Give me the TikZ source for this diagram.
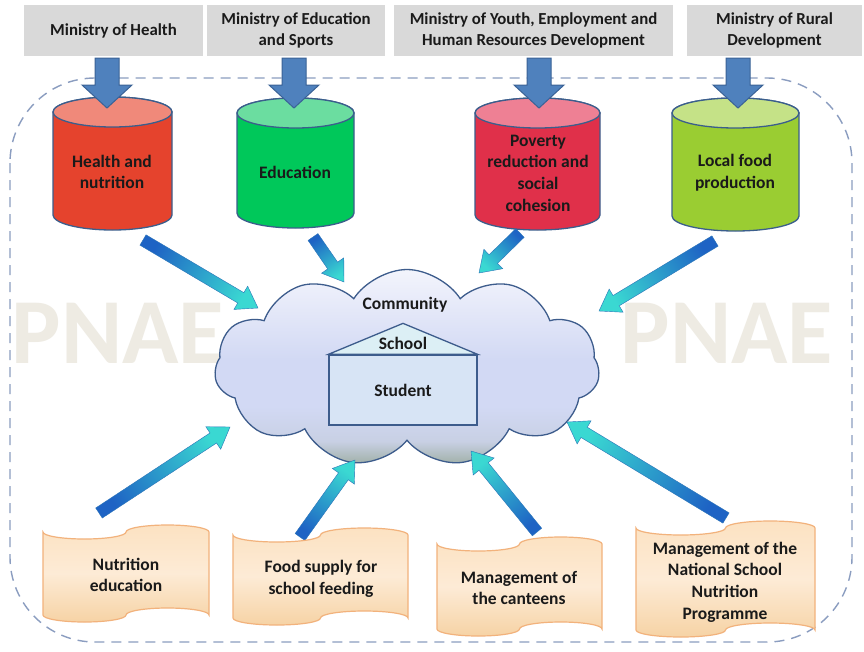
\documentclass[tikz,border=0pt]{standalone}
\usepackage{fontspec}
\setmainfont{Carlito}
\usetikzlibrary{calc,shapes.symbols}

\definecolor{minfill}{HTML}{D9D9D9}
\definecolor{dnarrow}{HTML}{4F81BD}
\definecolor{dnedge}{HTML}{3A6296}
\definecolor{cylline}{HTML}{3B5E8C}
\definecolor{cAbody}{HTML}{E5432D}
\definecolor{cAtop}{HTML}{F0897A}
\definecolor{cBbody}{HTML}{00C85A}
\definecolor{cBtop}{HTML}{6BDDA0}
\definecolor{cCbody}{HTML}{E0304A}
\definecolor{cCtop}{HTML}{EE8094}
\definecolor{cDbody}{HTML}{9ACD32}
\definecolor{cDtop}{HTML}{C5E287}
\definecolor{bordercol}{HTML}{8B9DC0}
\definecolor{wm}{HTML}{EEEBE3}
\definecolor{cloudtop}{HTML}{F3F4FC}
\definecolor{cloudmid}{HTML}{D2D9F4}
\definecolor{cloudlow}{HTML}{C8D0E4}
\definecolor{cloudbot}{HTML}{9FAFA6}
\definecolor{cloudedge}{HTML}{3D5C8C}
\definecolor{housefill}{HTML}{D7E4F5}
\definecolor{rooffill}{HTML}{DCEFF5}
\definecolor{arrowtail}{HTML}{1E63C4}
\definecolor{arrowtip}{HTML}{3AD8D2}
\definecolor{arrowedge}{HTML}{2A74B8}
\definecolor{scrolltop}{HTML}{FCE2C2}
\definecolor{scrollmid}{HTML}{FDEBD6}
\definecolor{scrollbot}{HTML}{F6D3A5}
\definecolor{scrolledge}{HTML}{F2B27C}
\definecolor{txt}{HTML}{1A1A1A}

\pgfdeclareverticalshading{cloudsh}{100bp}{color(0bp)=(cloudbot); color(25bp)=(cloudbot); color(31bp)=(cloudlow); color(40bp)=(cloudmid); color(52bp)=(cloudmid); color(75bp)=(cloudtop); color(100bp)=(cloudtop)}

\newcommand\fatarrow[2]{%
  \path (#1); \pgfgetlastxy{\fax}{\fay}%
  \path (#2); \pgfgetlastxy{\fbx}{\fby}%
  \pgfmathsetmacro\faang{atan2((\fby)-(\fay),(\fbx)-(\fax))-90}%
  \coordinate (fah) at ($(#2)!20pt!(#1)$);%
  \shadedraw[fatarrowstyle, shading angle=\faang]
    ($(#1)!6pt!90:(#2)$) -- ($(fah)!6pt!90:(#2)$) -- ($(fah)!13.5pt!90:(#2)$) -- (#2)
    -- ($(fah)!13.5pt!-90:(#2)$) -- ($(fah)!6pt!-90:(#2)$) -- ($(#1)!6pt!-90:(#2)$) -- cycle;%
}
\newcommand\cylshape[6]{% x0, x1, ytop centre, ybottom centre, body, top
  \pgfmathsetmacro\crx{(#2-#1)/2}%
  \filldraw[cylstyle, fill=#5] (#1,#3) -- (#1,#4)
    arc[start angle=180, end angle=360, x radius=\crx pt, y radius=15pt]
    -- (#2,#3) arc[start angle=0, end angle=180, x radius=\crx pt, y radius=15pt] -- cycle;%
  \filldraw[cylstyle, fill=#6] ({(#1+#2)/2},#3) ellipse[x radius=\crx pt, y radius=15pt];%
}
\newcommand\scrollshape[4]{% x0, x1, ytop, ybottom
  \pgfmathsetmacro\swr{(#2-#1)/4}%
  \shadedraw[scrollstyle] (#1,#3)
    arc[start angle=180, end angle=360, x radius=\swr pt, y radius=7pt]
    arc[start angle=180, end angle=0, x radius=\swr pt, y radius=7pt]
    -- (#2,#4)
    arc[start angle=0, end angle=180, x radius=\swr pt, y radius=7pt]
    arc[start angle=0, end angle=-180, x radius=\swr pt, y radius=7pt] -- cycle;%
}
\newcommand\dnarrowshape[1]{%
  \filldraw[dnstyle] (#1-12,58) -- (#1-12,85) -- (#1-25,85) -- (#1,108)
    -- (#1+25,85) -- (#1+12,85) -- (#1+12,58) -- cycle;%
}

\begin{document}
\begin{tikzpicture}[x=1pt, y=-1pt,
  minbox/.style={fill=minfill, minimum height=51pt, inner sep=0pt, align=center,
    text=txt, font=\fontsize{16.8}{21}\selectfont\bfseries},
  cylstyle/.style={draw=cylline, line width=1.3pt},
  cyltext/.style={align=center, text=txt, inner sep=0pt, font=\fontsize{17.5}{21.7}\selectfont\bfseries},
  dnstyle/.style={fill=dnarrow, draw=dnedge, line width=1pt, line join=miter},
  fatarrowstyle/.style={top color=arrowtip, bottom color=arrowtail, draw=arrowedge, line width=0.4pt},
  scrollstyle/.style={draw=scrolledge, line width=1.2pt, top color=scrolltop, bottom color=scrollbot, middle color=scrollmid},
  scrolltext/.style={align=center, text=txt, inner sep=0pt, font=\fontsize{17.5}{21.7}\selectfont\bfseries},
  wmtext/.style={text=wm, inner sep=0pt, font=\fontsize{93}{93}\selectfont\bfseries},
  cloudtext/.style={text=txt, inner sep=0pt, font=\fontsize{17.5}{21}\selectfont\bfseries},
  bordstyle/.style={draw=bordercol, line width=1.4pt, dash pattern=on 10pt off 7pt, rounded corners=85pt}
]
\useasboundingbox (0,0) rectangle (864,651);
\fill[white] (0,0) rectangle (864,651);

% dashed frame
\draw[bordstyle] (10,78) rectangle (852,642);

% watermarks
\node[wmtext] (pnaeL) at (118,333) {PNAE};
\node[wmtext] (pnaeR) at (727,333) {PNAE};

% ministries
\node[minbox, minimum width=179pt] (m1) at (113.5,30.5) {Ministry of Health};
\node[minbox, minimum width=178pt] (m2) at (296,30.5) {Ministry of Education\\and Sports};
\node[minbox, minimum width=279pt] (m3) at (533.5,30.5) {Ministry of Youth, Employment and\\Human Resources Development};
\node[minbox, minimum width=175pt] (m4) at (774.5,30.5) {Ministry of Rural\\Development};

% cylinders
\cylshape{53}{172}{112}{215}{cAbody}{cAtop}
\cylshape{237}{354}{113}{213}{cBbody}{cBtop}
\cylshape{475}{600}{113}{215}{cCbody}{cCtop}
\cylshape{672}{799}{113}{216}{cDbody}{cDtop}
\node[cyltext] (c1) at (112,172) {Health and\\nutrition};
\node[cyltext] (c2) at (295,172) {Education};
\node[cyltext] (c3) at (538,173) {Poverty\\reduction and\\social\\cohesion};
\node[cyltext] (c4) at (735,173) {Local food\\production};

% ministry -> pillar arrows
\dnarrowshape{107}
\dnarrowshape{294}
\dnarrowshape{539}
\dnarrowshape{738}

% cloud
\node[cloud, cloud ignores aspect, cloud puffs=11, cloud puff arc=115,
  minimum width=385pt, minimum height=197pt, draw=cloudedge, line width=1.3pt,
  shade, shading=cloudsh] (cloud) at (407,368) {};
\node[cloudtext] (community) at (405,305) {Community};

% house
\node[draw=cloudedge, line width=1.3pt, fill=housefill, minimum width=148pt,
  minimum height=70pt, inner sep=0pt, text=txt, font=\fontsize{17.5}{21}\selectfont\bfseries]
  (student) at (403,390) {Student};
\filldraw[draw=cloudedge, line width=1.3pt, fill=rooffill, line join=miter]
  (student.north west) -- ($(student.north)+(0,-31)$) -- (student.north east) -- cycle;
\node[cloudtext] (school) at (403,343) {School};

% arrows into the cloud
\coordinate (a1t) at (143,240); \coordinate (a1h) at (258,308);
\coordinate (a2t) at (313,237); \coordinate (a2h) at (344,282);
\coordinate (a3t) at (520,233); \coordinate (a3h) at (479,273);
\coordinate (a4t) at (715,241); \coordinate (a4h) at (599,311);
\coordinate (b1t) at (99,513);  \coordinate (b1h) at (230,427);
\coordinate (b2t) at (300,537); \coordinate (b2h) at (355,460);
\coordinate (b3t) at (537,532); \coordinate (b3h) at (471,451);
\coordinate (b4t) at (726,518); \coordinate (b4h) at (567,422);
\fatarrow{a1t}{a1h}
\fatarrow{a2t}{a2h}
\fatarrow{a3t}{a3h}
\fatarrow{a4t}{a4h}
\fatarrow{b1t}{b1h}
\fatarrow{b2t}{b2h}
\fatarrow{b3t}{b3h}
\fatarrow{b4t}{b4h}

% scrolls
\scrollshape{43}{209}{532}{615}
\scrollshape{233}{408}{535}{618}
\scrollshape{437}{602}{544}{629}
\scrollshape{636}{815}{528}{630}
\node[scrolltext] (s1) at (126,575) {Nutrition\\education};
\node[scrolltext] (s2) at (321,579) {Food supply for\\school feeding};
\node[scrolltext] (s3) at (519,588) {Management of\\the canteens};
\node[scrolltext] (s4) at (725,582) {Management of the\\National School\\Nutrition\\Programme};
\end{tikzpicture}
\end{document}
